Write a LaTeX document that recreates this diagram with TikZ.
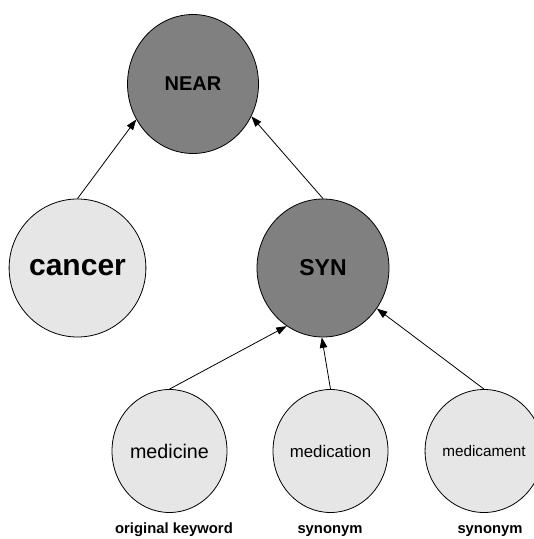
\documentclass[tikz,border=0pt]{standalone}
\usepackage{fontspec}
\setmainfont{Liberation Sans}
\usetikzlibrary{shapes.geometric,arrows.meta}
\definecolor{opgray}{RGB}{128,128,128}
\definecolor{termgray}{RGB}{230,230,230}
\tikzset{
  opnode/.style={ellipse, draw=black, line width=0.8pt, fill=opgray, inner sep=0pt,
    font=\bfseries},
  termnode/.style={ellipse, draw=black, line width=0.8pt, fill=termgray, inner sep=0pt},
  caption/.style={anchor=base, font=\bfseries\fontsize{14.8}{16}\selectfont},
  link/.style={line width=0.8pt, -{Triangle[length=10.5pt,width=7.5pt]}}
}
\begin{document}
\begin{tikzpicture}[x=1pt,y=-1pt]
  \useasboundingbox (0,0) rectangle (534,539);
  % operators
  \node[opnode, minimum width=131pt, minimum height=139pt,
        font=\bfseries\fontsize{20}{22}\selectfont] (near) at (193,84) {NEAR};
  \node[opnode, minimum width=132pt, minimum height=138pt,
        font=\bfseries\fontsize{23}{25}\selectfont] (syn) at (323,268) {SYN};
  % terms
  \node[termnode, minimum width=131pt, minimum height=138pt,
        font=\bfseries\fontsize{30}{32}\selectfont] (cancer) at (77.5,268) {cancer};
  \node[termnode, minimum width=115pt, minimum height=123pt,
        font=\fontsize{19.7}{21}\selectfont] (medicine) at (169.5,451) {medicine};
  \node[termnode, minimum width=115pt, minimum height=123pt,
        font=\fontsize{16.8}{18}\selectfont] (medication) at (330.5,451) {medication};
  \node[termnode, minimum width=115pt, minimum height=123pt,
        font=\fontsize{15.3}{17}\selectfont] (medicament) at (484,451) {medicament};
  % captions
  \node[caption] (capA) at (174,533.5) {original keyword};
  \node[caption] (capB) at (330,533.5) {synonym};
  \node[caption] (capC) at (490,533.5) {synonym};
  % links
  \draw[link] (cancer.north) -- (near.212);
  \draw[link] (syn.north) -- (near.331);
  \draw[link] (medicine.north) -- (syn.238.6);
  \draw[link] (medication.north) -- (syn.269);
  \draw[link] (medicament.north) -- (syn.323.5);
\end{tikzpicture}
\end{document}
